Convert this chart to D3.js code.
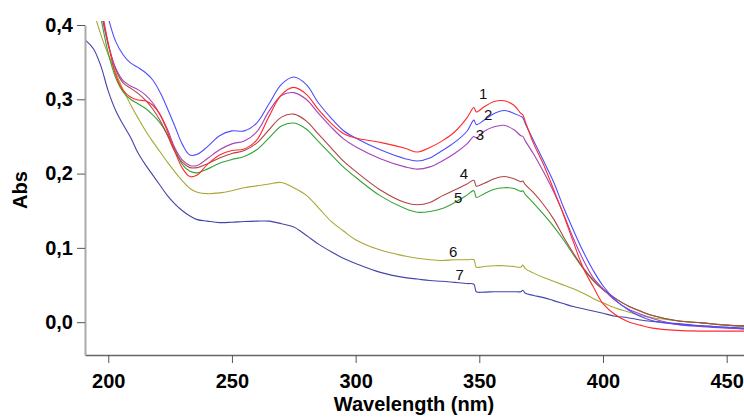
<!DOCTYPE html>
<html>
<head>
<meta charset="utf-8">
<script src="https://cdn.jsdelivr.net/npm/d3@7"></script>
<style>
  body { margin: 0; background: #fff; }
  svg { display: block; font-family: Arial, "Liberation Sans", sans-serif; }
</style>
</head>
<body>
<div id="chart"></div>
<script>
// Wavelength grid (nm) shared by every spectrum
const wavelengths = [191, 194, 197, 200, 203, 206, 209, 212, 215, 218, 221, 224, 227, 230, 233, 236, 240, 245, 250, 255,
  260, 265, 270, 275, 280, 285, 290, 295, 300, 310, 320, 325, 330, 335, 340, 345, 347.8, 348.8, 352, 356,
  360, 364, 366.8, 367.6, 368.6, 372, 376, 380, 384, 388, 392, 396, 400, 405, 410, 415, 420, 430, 440, 450, 457];

// Absorbance of each spectrum
const abs1 = [0.56, 0.50, 0.43, 0.375, 0.333, 0.312, 0.303, 0.299, 0.298, 0.292, 0.279, 0.256, 0.229, 0.207, 0.196, 0.198, 0.212, 0.225, 0.231, 0.233,
  0.245, 0.277, 0.306, 0.316, 0.307, 0.286, 0.268, 0.254, 0.248, 0.242, 0.234, 0.229, 0.235, 0.244, 0.256, 0.275, 0.289, 0.283, 0.290, 0.297,
  0.298, 0.292, 0.281, 0.279, 0.270, 0.240, 0.212, 0.179, 0.145, 0.108, 0.073, 0.048, 0.025, 0.010, 0.001, -0.004, -0.008, -0.011, -0.012, -0.012, -0.012];
const abs2 = [0.58, 0.52, 0.46, 0.41, 0.378, 0.360, 0.349, 0.343, 0.336, 0.326, 0.309, 0.287, 0.263, 0.239, 0.225, 0.226, 0.236, 0.251, 0.2575, 0.2575,
  0.268, 0.294, 0.320, 0.330, 0.320, 0.295, 0.275, 0.258, 0.248, 0.232, 0.220, 0.217, 0.221, 0.231, 0.242, 0.257, 0.272, 0.266, 0.272, 0.281,
  0.285, 0.281, 0.277, 0.275, 0.267, 0.244, 0.217, 0.189, 0.155, 0.124, 0.095, 0.070, 0.049, 0.030, 0.017, 0.008, 0.002, -0.003, -0.005, -0.007, -0.008];
const abs3 = [0.53, 0.48, 0.42, 0.373, 0.342, 0.325, 0.318, 0.313, 0.306, 0.295, 0.279, 0.259, 0.234, 0.218, 0.211, 0.211, 0.220, 0.232, 0.240, 0.244,
  0.256, 0.284, 0.305, 0.309, 0.300, 0.281, 0.263, 0.247, 0.236, 0.220, 0.209, 0.206, 0.209, 0.217, 0.227, 0.240, 0.250, 0.248, 0.257, 0.263,
  0.265, 0.259, 0.251, 0.250, 0.244, 0.226, 0.202, 0.176, 0.146, 0.113, 0.084, 0.060, 0.045, 0.029, 0.018, 0.011, 0.005, -0.003, -0.006, -0.008, -0.009];
const abs4 = [0.52, 0.47, 0.42, 0.375, 0.340, 0.322, 0.315, 0.308, 0.299, 0.287, 0.271, 0.251, 0.229, 0.215, 0.208, 0.208, 0.213, 0.221, 0.227, 0.231,
  0.241, 0.259, 0.276, 0.280, 0.271, 0.253, 0.235, 0.217, 0.203, 0.178, 0.161, 0.158, 0.161, 0.170, 0.178, 0.186, 0.191, 0.183, 0.187, 0.193,
  0.196, 0.193, 0.189, 0.190, 0.185, 0.174, 0.158, 0.139, 0.115, 0.093, 0.073, 0.057, 0.044, 0.032, 0.022, 0.015, 0.009, 0.002, -0.001, -0.004, -0.005];
const abs5 = [0.50, 0.46, 0.41, 0.362, 0.329, 0.310, 0.300, 0.294, 0.288, 0.279, 0.268, 0.252, 0.232, 0.212, 0.203, 0.201, 0.206, 0.214, 0.219, 0.223,
  0.232, 0.248, 0.264, 0.268, 0.260, 0.243, 0.226, 0.209, 0.195, 0.170, 0.153, 0.148, 0.149, 0.153, 0.161, 0.171, 0.177, 0.168, 0.173, 0.179,
  0.181, 0.180, 0.176, 0.177, 0.172, 0.160, 0.145, 0.129, 0.111, 0.091, 0.072, 0.056, 0.044, 0.032, 0.022, 0.015, 0.009, 0.002, -0.001, -0.004, -0.005];
const abs6 = [0.46, 0.42, 0.387, 0.360, 0.336, 0.313, 0.293, 0.275, 0.258, 0.243, 0.229, 0.215, 0.202, 0.190, 0.180, 0.175, 0.173, 0.174, 0.177, 0.181,
  0.1835, 0.186, 0.188, 0.181, 0.171, 0.154, 0.136, 0.123, 0.111, 0.097, 0.089, 0.086, 0.084, 0.083, 0.084, 0.084, 0.084, 0.074, 0.075, 0.076,
  0.076, 0.075, 0.074, 0.077, 0.072, 0.066, 0.060, 0.055, 0.050, 0.045, 0.039, 0.032, 0.026, 0.019, 0.014, 0.009, 0.006, 0.002, -0.001, -0.004, -0.006];
const abs7 = [0.379, 0.368, 0.345, 0.311, 0.285, 0.266, 0.249, 0.228, 0.212, 0.198, 0.184, 0.170, 0.159, 0.150, 0.143, 0.138, 0.136, 0.134, 0.1345, 0.1355,
  0.136, 0.136, 0.1325, 0.128, 0.117, 0.105, 0.095, 0.086, 0.079, 0.067, 0.060, 0.058, 0.056, 0.055, 0.0535, 0.052, 0.051, 0.041, 0.0405, 0.041,
  0.041, 0.041, 0.041, 0.043, 0.039, 0.036, 0.033, 0.029, 0.025, 0.021, 0.018, 0.015, 0.012, 0.008, 0.006, 0.003, 0.001, -0.002, -0.005, -0.007, -0.009];

const seriesNames = ["1", "2", "3", "4", "5", "6", "7"];
const seriesValues = [abs1, abs2, abs3, abs4, abs5, abs6, abs7];
const seriesColors = ["#ff2b2b", "#4d4dff", "#a443b8", "#b34444", "#36a336", "#a8a834", "#4444a8"];
// where each curve number is written: [wavelength, absorbance]
const labelAnchors = [[351.6, 0.308], [353.6, 0.279], [350.2, 0.252], [343.8, 0.2005], [341.5, 0.168], [339.4, 0.095], [342.1, 0.0637]];

const xTicks = [200, 250, 300, 350, 400, 450];
const yTicks = [0, 0.1, 0.2, 0.3, 0.4];

const fullWidth = 744, fullHeight = 417;
const plot = { left: 85, right: 744, top: 25, bottom: 355 };

const svg = d3.select("#chart")
    .append("svg")
    .attr("width", fullWidth)
    .attr("height", fullHeight);

// Scales
const x = d3.scaleLinear()
    .domain([190.6, 457])
    .range([plot.left, plot.right]);
const y = d3.scaleLinear()
    .domain([-0.0442, 0.4])
    .range([plot.bottom, plot.top]);

// Clip the spectra to the plotting box
svg.append("clipPath")
    .attr("id", "clip")
    .append("rect")
    .attr("x", plot.left)
    .attr("y", 21)
    .attr("width", plot.right - plot.left)
    .attr("height", plot.bottom - 21);

const line = d3.line()
    .x(d => x(d[0]))
    .y(d => y(d[1]))
    .curve(d3.curveCatmullRom.alpha(0.5));

const curves = seriesNames.map((name, i) => ({
    name: name,
    color: seriesColors[i],
    points: wavelengths.map((w, j) => [w, seriesValues[i][j]])
}));

svg.append("g")
    .attr("clip-path", "url(#clip)")
    .selectAll("path")
    .data(curves.slice().reverse())
    .join("path")
    .attr("fill", "none")
    .attr("stroke", d => d.color)
    .attr("stroke-width", 1.1)
    .attr("d", d => line(d.points));

// Curve numbers
svg.append("g")
    .selectAll("text")
    .data(labelAnchors)
    .join("text")
    .attr("x", d => x(d[0]))
    .attr("y", d => y(d[1]))
    .attr("text-anchor", "middle")
    .attr("dominant-baseline", "central")
    .style("font-size", "15px")
    .style("fill", "#111")
    .text((d, i) => seriesNames[i]);

// X axis
const xAxis = svg.append("g")
    .attr("transform", `translate(0,${plot.bottom})`)
    .call(d3.axisBottom(x).tickValues(xTicks).tickSize(8).tickSizeOuter(0).tickPadding(11));
xAxis.select(".domain").attr("stroke", "#666").attr("stroke-width", 1.5);
xAxis.selectAll(".tick line").attr("stroke", "#555");
xAxis.selectAll(".tick text")
    .style("font-size", "20px")
    .style("font-weight", "bold")
    .style("fill", "#000");

// Y axis
const yAxis = svg.append("g")
    .attr("transform", `translate(${plot.left},0)`)
    .call(d3.axisLeft(y).tickValues(yTicks).tickSize(8).tickSizeOuter(0).tickPadding(4)
        .tickFormat(d => d3.format(".1f")(d).replace(".", ",")));
yAxis.select(".domain").attr("stroke", "#aaa").attr("stroke-width", 2);
yAxis.selectAll(".tick line").attr("stroke", "#555");
yAxis.selectAll(".tick text")
    .style("font-size", "20px")
    .style("font-weight", "bold")
    .style("fill", "#000");

// Axis titles
svg.append("text")
    .attr("x", 414)
    .attr("y", 411)
    .attr("text-anchor", "middle")
    .style("font-size", "20px")
    .style("font-weight", "bold")
    .text("Wavelength (nm)");

svg.append("text")
    .attr("transform", "translate(27,190) rotate(-90)")
    .attr("text-anchor", "middle")
    .style("font-size", "20px")
    .style("font-weight", "bold")
    .text("Abs");
</script>
</body>
</html>
